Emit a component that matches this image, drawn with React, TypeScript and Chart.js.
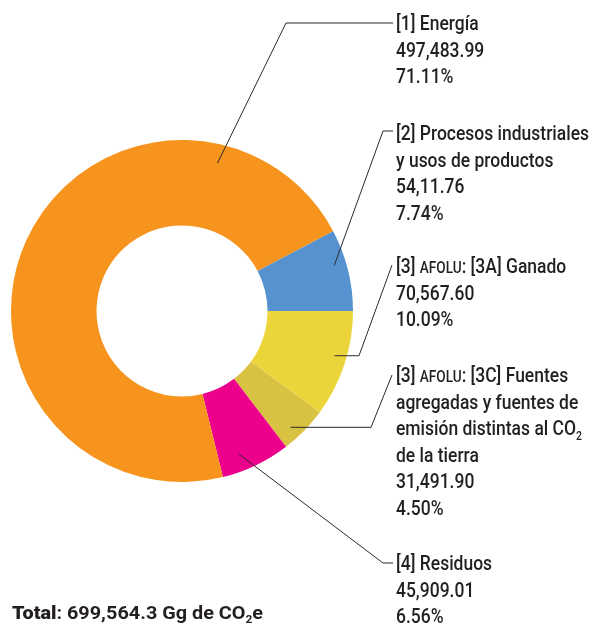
import React, { useEffect, useRef } from "react";
import { Chart, registerables } from "chart.js";

Chart.register(...registerables);

// ---- Data (clockwise from 3 o'clock) ----
const categories = [
  "[3] AFOLU: [3A] Ganado",
  "[3] AFOLU: [3C] Fuentes agregadas y fuentes de emisión distintas al CO2 de la tierra",
  "[4] Residuos",
  "[1] Energía",
  "[2] Procesos industriales y usos de productos",
];
const values = [70567.6, 31491.9, 45909.01, 497483.99, 54111.76];
const valueLabels = ["70,567.60", "31,491.90", "45,909.01", "497,483.99", "54,11.76"];
const percents = [10.09, 4.5, 6.56, 71.11, 7.74];
const colors = ["#ECD53B", "#D9C142", "#EC008C", "#F7941E", "#5592CF"];
const totalValue = "699,564.3";

type Seg = { t: string; k?: "sc" | "sub"; w?: number };

// Name lines as displayed (with small caps / subscript segments)
const nameLines: Seg[][][] = [
  [[{ t: "[3] " }, { t: "AFOLU", k: "sc" }, { t: ": [3A] Ganado" }]],
  [
    [{ t: "[3] " }, { t: "AFOLU", k: "sc" }, { t: ": [3C] Fuentes" }],
    [{ t: "agregadas y fuentes de" }],
    [{ t: "emisión distintas al CO" }, { t: "2", k: "sub" }],
    [{ t: "de la tierra" }],
  ],
  [[{ t: "[4] Residuos" }]],
  [[{ t: "[1] Energía" }]],
  [[{ t: "[2] Procesos industriales" }], [{ t: "y usos de productos" }]],
];

// ---- Annotation layout (leader lines and label placement) ----
const leaders = [
  { frac: 0.45, r: 0.93, path: [[359, null], [392, 265]], textY: 273 },
  { frac: 0.66, r: 0.93, path: [[371, null], [392, 375]], textY: 382 },
  { frac: 0.67, r: 0.9, path: [[383, 563], [393, 563]], textY: 570 },
  { frac: 0.81, r: 0.89, path: [[286, 23], [393, 23]], textY: 30 },
  { frac: 0.4, r: 0.93, path: [[383, 131], [393, 131]], textY: 140 },
];
const LABEL_X = 396;
const LINE_H = 26.5;
const FONT_SIZE = 21;
const LABEL_WEIGHT = 500;
const TEXT_COLOR = "#231F20";
const FONT = "Roboto, 'Noto Sans', sans-serif";

function drawRich(ctx: CanvasRenderingContext2D, segs: Seg[], x: number, y: number, size: number, weight: number, sx: number) {
  ctx.save();
  ctx.translate(x, y);
  ctx.scale(sx, 1);
  let cx = 0;
  for (const s of segs) {
    let fs = size;
    let dy = 0;
    const w = s.w ?? weight;
    if (s.k === "sc") fs = size * 0.78;
    if (s.k === "sub") {
      fs = size * 0.6;
      dy = size * 0.22;
    }
    ctx.font = `${w} ${fs}px ${FONT}`;
    ctx.fillText(s.t, cx, dy);
    cx += ctx.measureText(s.t).width;
  }
  ctx.restore();
}

const annotPlugin = {
  id: "annot",
  afterDraw(chart: any) {
    const ctx: CanvasRenderingContext2D = chart.ctx;
    const meta = chart.getDatasetMeta(0);
    ctx.save();
    ctx.strokeStyle = "#2b2b2b";
    ctx.lineWidth = 1;
    meta.data.forEach((arc: any, i: number) => {
      const p = arc.getProps(["x", "y", "startAngle", "endAngle", "outerRadius"], true);
      const L = leaders[i];
      const a = p.startAngle + (p.endAngle - p.startAngle) * L.frac;
      const r = p.outerRadius * L.r;
      let x = p.x + Math.cos(a) * r;
      let y = p.y + Math.sin(a) * r;
      ctx.beginPath();
      ctx.moveTo(x, y);
      for (const [px, py] of L.path as any) {
        x = px;
        y = py ?? y;
        ctx.lineTo(x, y);
      }
      ctx.stroke();
    });

    // labels
    ctx.fillStyle = TEXT_COLOR;
    ctx.textAlign = "left";
    ctx.textBaseline = "alphabetic";
    ctx.font = `${LABEL_WEIGHT} ${FONT_SIZE}px ${FONT}`;
    const sx = 193 / ctx.measureText("[2] Procesos industriales").width;
    categories.forEach((_, i) => {
      const lines: Seg[][] = [
        ...nameLines[i],
        [{ t: valueLabels[i] }],
        [{ t: percents[i].toFixed(2) + "%" }],
      ];
      lines.forEach((segs, j) => {
        drawRich(ctx, segs, LABEL_X, leaders[i].textY + j * LINE_H, FONT_SIZE, LABEL_WEIGHT, sx);
      });
    });

    // total
    const totalSegs: Seg[] = [
      { t: "Total", w: 900 },
      { t: `: ${totalValue} Gg de CO` },
      { t: "2", k: "sub" },
      { t: "e" },
    ];
    const TS = 18.5;
    let tw = 0;
    for (const s of totalSegs) {
      const fs = s.k === "sub" ? TS * 0.6 : TS;
      ctx.font = `${s.w ?? 700} ${fs}px ${FONT}`;
      tw += ctx.measureText(s.t).width;
    }
    drawRich(ctx, totalSegs, 12, 619, TS, 700, 251 / tw);
    ctx.restore();
  },
};

export default function App() {
  const ref = useRef<HTMLCanvasElement>(null);
  useEffect(() => {
    if (!ref.current) return;
    const chart = new Chart(ref.current, {
      type: "doughnut",
      data: {
        labels: categories,
        datasets: [
          {
            data: values,
            backgroundColor: colors,
            borderWidth: 0,
            hoverOffset: 0,
          },
        ],
      },
      options: {
        responsive: false,
        animation: false,
        events: [],
        rotation: 90,
        cutout: "50%",
        layout: { padding: { left: 11, top: 140, right: 237, bottom: 143 } },
        plugins: { legend: { display: false }, tooltip: { enabled: false } },
      },
      plugins: [annotPlugin],
    });
    return () => chart.destroy();
  }, []);
  return (
    <div style={{ position: "absolute", left: 0, top: 0, width: 590, height: 625, background: "#fff" }}>
      <canvas ref={ref} width={590} height={625} style={{ display: "block" }} />
    </div>
  );
}
